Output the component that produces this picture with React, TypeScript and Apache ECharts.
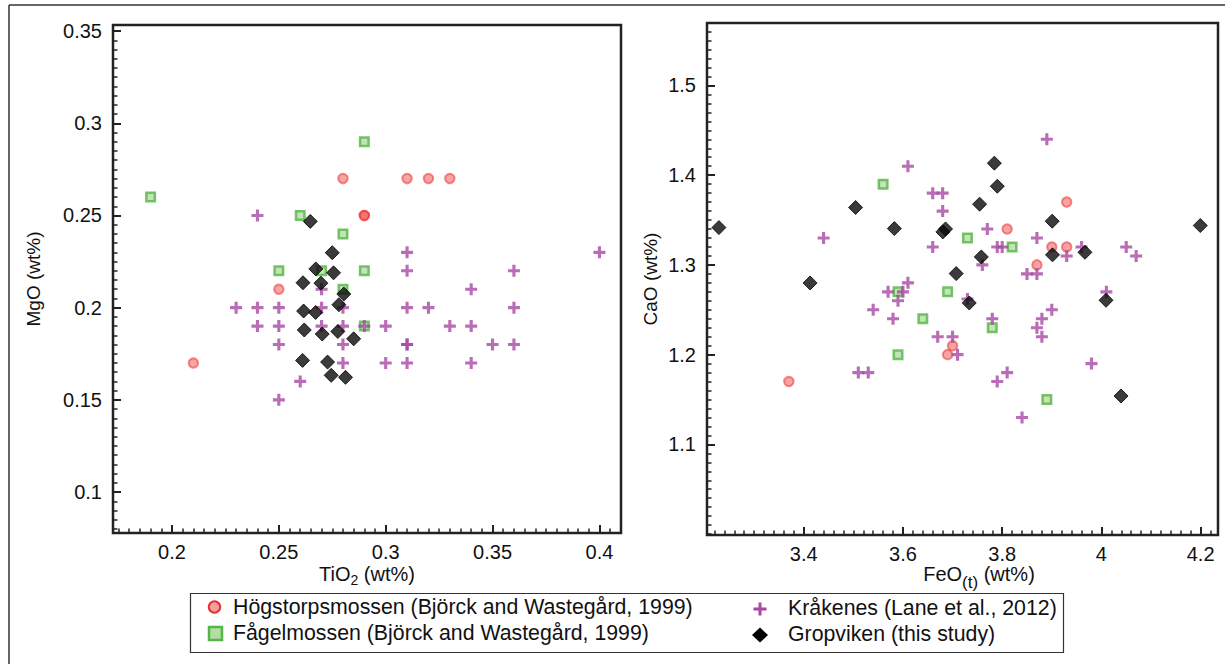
import React, { useEffect, useRef } from 'react';
import * as echarts from 'echarts';

// ---------- Data: TiO2 vs MgO (left panel) ----------
const hogLeft = [
  [0.28, 0.27], [0.31, 0.27], [0.32, 0.27], [0.33, 0.27],
  [0.29, 0.25], [0.29, 0.25], [0.25, 0.21], [0.21, 0.17],
];
const fagLeft = [
  [0.29, 0.29], [0.19, 0.26], [0.26, 0.25], [0.28, 0.24], [0.25, 0.22],
  [0.27, 0.22], [0.29, 0.22], [0.28, 0.21], [0.29, 0.19],
];
const kraLeft = [
  [0.24, 0.25], [0.31, 0.23], [0.40, 0.23], [0.31, 0.22], [0.36, 0.22],
  [0.34, 0.21], [0.27, 0.21],
  [0.23, 0.2], [0.24, 0.2], [0.25, 0.2], [0.27, 0.2], [0.28, 0.2], [0.31, 0.2], [0.32, 0.2], [0.36, 0.2],
  [0.24, 0.19], [0.25, 0.19], [0.27, 0.19], [0.28, 0.19], [0.29, 0.19], [0.30, 0.19], [0.33, 0.19], [0.34, 0.19],
  [0.25, 0.18], [0.28, 0.18], [0.31, 0.18], [0.31, 0.18], [0.35, 0.18], [0.36, 0.18],
  [0.28, 0.17], [0.30, 0.17], [0.31, 0.17], [0.34, 0.17],
  [0.26, 0.16], [0.25, 0.15],
];
const gropLeft = [
  [0.2647, 0.2468], [0.275, 0.2298], [0.2673, 0.221], [0.2756, 0.2189],
  [0.2613, 0.2135], [0.2697, 0.2133], [0.2804, 0.2074], [0.2781, 0.2016],
  [0.2616, 0.1982], [0.2672, 0.1974], [0.2619, 0.1879], [0.2703, 0.1857],
  [0.2776, 0.1871], [0.285, 0.1831], [0.2611, 0.1714], [0.2728, 0.1705],
  [0.2745, 0.1633], [0.2812, 0.1622],
];

// ---------- Data: FeO(t) vs CaO (right panel) ----------
const hogRight = [
  [3.37, 1.17], [3.81, 1.34], [3.93, 1.37], [3.90, 1.32],
  [3.93, 1.32], [3.87, 1.30], [3.70, 1.21], [3.69, 1.20],
];
const fagRight = [
  [3.56, 1.39], [3.73, 1.33], [3.82, 1.32], [3.59, 1.27], [3.69, 1.27],
  [3.64, 1.24], [3.78, 1.23], [3.59, 1.20], [3.89, 1.15],
];
const kraRight = [
  [3.89, 1.44], [3.61, 1.41], [3.66, 1.38], [3.68, 1.38], [3.68, 1.36],
  [3.77, 1.34], [3.44, 1.33], [3.87, 1.33], [3.66, 1.32], [3.79, 1.32],
  [3.80, 1.32], [3.96, 1.32], [4.05, 1.32], [3.93, 1.31], [4.07, 1.31],
  [3.76, 1.30], [3.85, 1.29], [3.87, 1.29], [3.61, 1.28], [3.57, 1.27],
  [3.60, 1.27], [4.01, 1.27], [3.59, 1.26], [3.73, 1.262], [3.54, 1.25],
  [3.90, 1.25], [3.58, 1.24], [3.78, 1.24], [3.88, 1.24], [3.87, 1.23],
  [3.67, 1.22], [3.70, 1.22], [3.88, 1.22], [3.71, 1.20], [3.98, 1.19],
  [3.51, 1.18], [3.53, 1.18], [3.81, 1.18], [3.79, 1.17], [3.84, 1.13],
];
const gropRight = [
  [3.229, 1.3416], [3.5045, 1.364], [3.4128, 1.2799], [3.5826, 1.3405],
  [3.6858, 1.3401], [3.6804, 1.3368], [3.7842, 1.4134], [3.7902, 1.3877],
  [3.7545, 1.3677], [3.7579, 1.3089], [3.7073, 1.2903], [3.7336, 1.2576],
  [3.9008, 1.3487], [3.9014, 1.3112], [3.9668, 1.3141], [4.0093, 1.2606],
  [4.0396, 1.1539], [4.1993, 1.3439],
];

// ---------- Tick labels ----------
const leftXTicks = [0.2, 0.25, 0.3, 0.35, 0.4];
const leftYTicks = [0.1, 0.15, 0.2, 0.25, 0.3, 0.35];
const rightXTicks = [3.4, 3.6, 3.8, 4, 4.2];
const rightYTicks = [1.1, 1.2, 1.3, 1.4, 1.5];

const legendNames = [
  'Högstorpsmossen (Björck and Wastegård, 1999)',
  'Fågelmossen (Björck and Wastegård, 1999)',
  'Kråkenes (Lane et al., 2012)',
  'Gropviken (this study)',
];

const FONT = '"Liberation Sans", Arial, Helvetica, sans-serif';
const INK = '#222';
const CROSS = 'path://M3.7,0L6.3,0L6.3,3.7L10,3.7L10,6.3L6.3,6.3L6.3,10L3.7,10L3.7,6.3L0,6.3L0,3.7L3.7,3.7Z';

function minorTicks(min: number, max: number, step: number, majors: number[]) {
  const out: number[] = [];
  const start = Math.ceil(min / step - 1e-9);
  const end = Math.floor(max / step + 1e-9);
  for (let i = start; i <= end; i++) {
    const v = Math.round(i * step * 1e6) / 1e6;
    if (!majors.some((m) => Math.abs(m - v) < 1e-9)) out.push(v);
  }
  return out;
}

function axisPair(gridIndex: number, min: number, max: number, majors: number[], step: number, margin: number) {
  const minors = minorTicks(min, max, step, majors);
  return [
    {
      type: 'value', gridIndex, min, max,
      axisLine: { show: false },
      splitLine: { show: false },
      axisTick: { show: true, inside: true, length: 8, customValues: majors, lineStyle: { color: INK, width: 2 } },
      axisLabel: { show: true, customValues: majors, margin, fontSize: 20, color: '#111', fontFamily: FONT },
    },
    {
      type: 'value', gridIndex, min, max,
      axisLine: { show: false },
      splitLine: { show: false },
      axisTick: { show: true, inside: true, length: 4.5, customValues: minors, lineStyle: { color: INK, width: 1.5 } },
      axisLabel: { show: false },
    },
  ];
}

function seriesFor(idx: number, hog: number[][], fag: number[][], kra: number[][], grop: number[][]) {
  return [
    {
      type: 'scatter', xAxisIndex: idx * 2, yAxisIndex: idx * 2, data: hog,
      symbol: 'circle', symbolSize: 9.5,
      itemStyle: { color: 'rgba(240,65,65,0.6)', borderColor: 'rgba(235,45,45,0.65)', borderWidth: 2 },
    },
    {
      type: 'scatter', xAxisIndex: idx * 2, yAxisIndex: idx * 2, data: fag,
      symbol: 'rect', symbolSize: 8.5,
      itemStyle: { color: '#b3dda4', borderColor: '#55b545', borderWidth: 2.5 },
    },
    {
      type: 'scatter', xAxisIndex: idx * 2, yAxisIndex: idx * 2, data: kra,
      symbol: CROSS, symbolSize: 12,
      itemStyle: { color: '#a648a4' },
    },
    {
      type: 'scatter', xAxisIndex: idx * 2, yAxisIndex: idx * 2, data: grop,
      symbol: 'diamond', symbolSize: 14,
      itemStyle: { color: '#0a0a0a', borderColor: '#000', borderWidth: 1 },
    },
  ];
}

let measureCtx: CanvasRenderingContext2D | null = null;
function textWidth(t: string, size: number) {
  if (!measureCtx) measureCtx = document.createElement('canvas').getContext('2d');
  if (!measureCtx) return t.length * size * 0.55;
  measureCtx.font = `${size}px "Liberation Sans", Arial, sans-serif`;
  return measureCtx.measureText(t).width;
}

function composedTitle(cx: number, y: number, parts: { t: string; size: number; dy: number }[]) {
  const widths = parts.map((p) => textWidth(p.t, p.size));
  const total = widths.reduce((a, b) => a + b, 0);
  let x = cx - total / 2;
  return parts.map((p, i) => {
    const el = {
      type: 'text', x, y: y + p.dy,
      style: { text: p.t, fontSize: p.size, fontFamily: FONT, fill: '#111', align: 'left', verticalAlign: 'middle' },
    };
    x += widths[i];
    return el;
  });
}

export default function App() {
  const ref = useRef<HTMLDivElement>(null);
  useEffect(() => {
    if (!ref.current) return;
    const chart = echarts.init(ref.current, null, { renderer: 'svg' });
    const LX = [0.1724, 0.4101], LY = [0.0778, 0.3533];
    const RX = [3.205, 4.235], RY = [0.999, 1.5696];
    const titleStyle = { fontSize: 19, fontFamily: FONT, fill: '#111' };
    const legText = { fontSize: 21.3, fontFamily: FONT, fill: '#111', verticalAlign: 'middle' };
    chart.setOption({
      animation: false,
      backgroundColor: '#fff',
      grid: [
        { left: 113, top: 25, width: 508, height: 508, show: true, borderColor: INK, borderWidth: 2.5, containLabel: false },
        { left: 707, top: 23, width: 511, height: 512, show: true, borderColor: INK, borderWidth: 2.5, containLabel: false },
      ],
      xAxis: [
        ...axisPair(0, LX[0], LX[1], leftXTicks, 0.005, 9),
        ...axisPair(1, RX[0], RX[1], rightXTicks, 0.02, 9),
      ].map((a) => ({ ...a, position: 'bottom' })),
      yAxis: [
        ...axisPair(0, LY[0], LY[1], leftYTicks, 0.005, 11),
        ...axisPair(1, RY[0], RY[1], rightYTicks, 0.01, 11),
      ].map((a) => ({ ...a, position: 'left' })),
      series: [
        ...seriesFor(0, hogLeft, fagLeft, kraLeft, gropLeft),
        ...seriesFor(1, hogRight, fagRight, kraRight, gropRight),
      ],
      graphic: [
        // outer figure frame
        { type: 'line', shape: { x1: 9, y1: 5, x2: 1225, y2: 5 }, style: { stroke: '#333', lineWidth: 1.5 } },
        { type: 'line', shape: { x1: 9, y1: 5, x2: 9, y2: 664 }, style: { stroke: '#333', lineWidth: 1.5 } },
        // axis titles
        { type: 'text', x: 33, y: 279, rotation: Math.PI / 2, style: { ...titleStyle, text: 'MgO (wt%)', align: 'center', verticalAlign: 'middle' } },
        { type: 'text', x: 650, y: 279, rotation: Math.PI / 2, style: { ...titleStyle, text: 'CaO (wt%)', align: 'center', verticalAlign: 'middle' } },
        ...composedTitle(367, 574, [
          { t: 'TiO', size: 20, dy: 0 },
          { t: '2', size: 14, dy: 6 },
          { t: ' (wt%)', size: 20, dy: 0 },
        ]),
        ...composedTitle(979, 574, [
          { t: 'FeO', size: 20, dy: 0 },
          { t: '(t)', size: 17, dy: 8 },
          { t: ' (wt%)', size: 20, dy: 0 },
        ]),
        // legend
        { type: 'rect', shape: { x: 190.5, y: 593.5, width: 873, height: 59 }, style: { fill: '#fff', stroke: '#333', lineWidth: 1.2 } },
        { type: 'circle', shape: { cx: 214.5, cy: 607, r: 5.7 }, style: { fill: '#f5a0a0', stroke: '#e83232', lineWidth: 2 } },
        { type: 'rect', shape: { x: 209, y: 627, width: 13, height: 13 }, style: { fill: '#b3dda4', stroke: '#55b545', lineWidth: 2.5 } },
        { type: 'rect', shape: { x: 753.5, y: 607.5, width: 13, height: 3 }, style: { fill: '#a648a4' } },
        { type: 'rect', shape: { x: 758.5, y: 602.5, width: 3, height: 13 }, style: { fill: '#a648a4' } },
        { type: 'polygon', shape: { points: [[760, 627.5], [768, 635], [760, 642.5], [752, 635]] }, style: { fill: '#000' } },
        { type: 'text', x: 233, y: 607, style: { ...legText, text: legendNames[0] } },
        { type: 'text', x: 233, y: 633, style: { ...legText, text: legendNames[1] } },
        { type: 'text', x: 788, y: 608, style: { ...legText, text: legendNames[2] } },
        { type: 'text', x: 788, y: 634, style: { ...legText, text: legendNames[3] } },
      ],
    });
    return () => chart.dispose();
  }, []);
  return <div ref={ref} style={{ position: 'absolute', left: 0, top: 0, width: 1225, height: 664, background: '#fff' }} />;
}
